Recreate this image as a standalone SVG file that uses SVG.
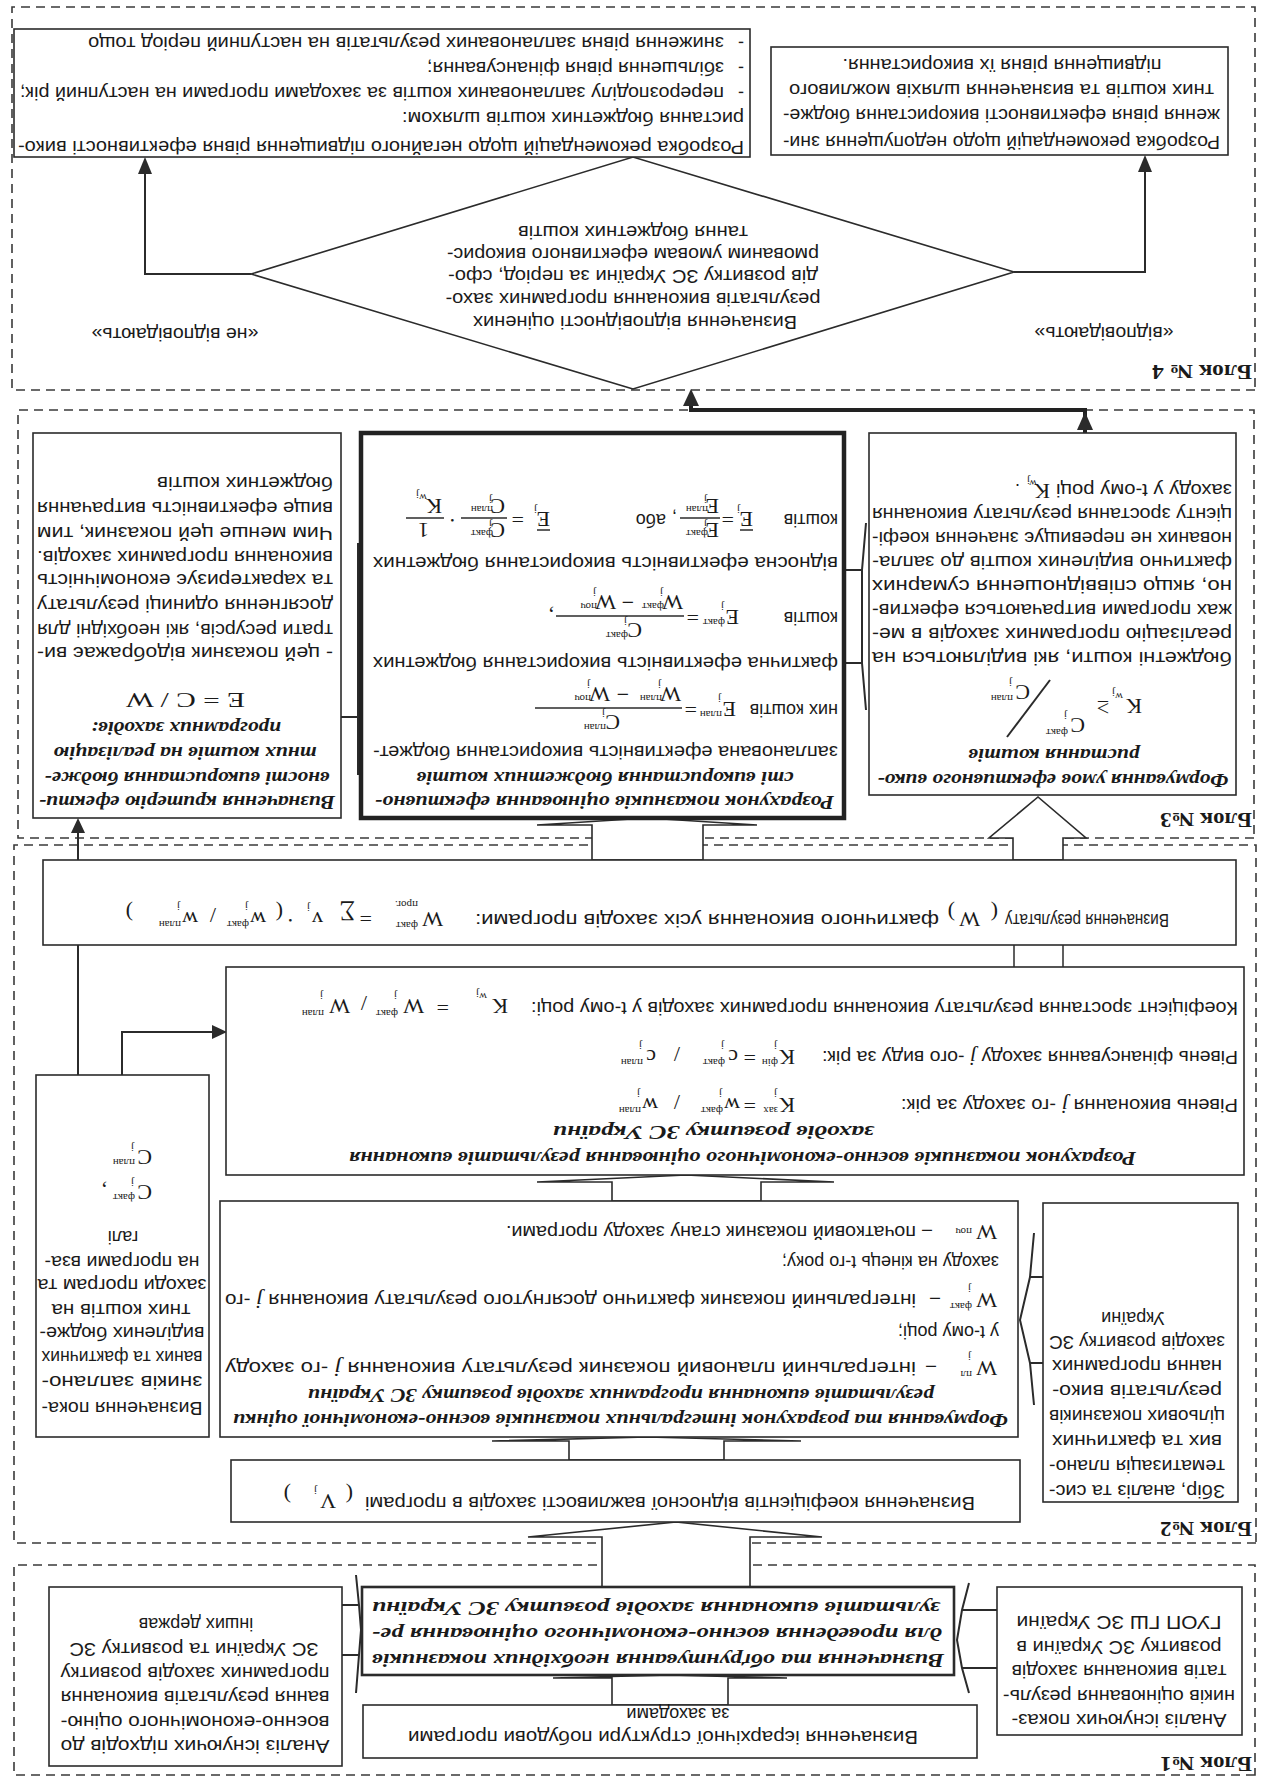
<svg xmlns="http://www.w3.org/2000/svg" width="1270" height="1779" viewBox="0 0 1270 1779">
<defs>
<style>
.bx{fill:#fff;stroke:#2b2b2b;stroke-width:1.6}
.bm{fill:#fff;stroke:#2b2b2b;stroke-width:2.6}
.bk{fill:#fff;stroke:#222;stroke-width:4.5}
.ds{fill:none;stroke:#3a3a3a;stroke-width:1.6;stroke-dasharray:9 6}
.ln{fill:none;stroke:#2b2b2b;stroke-width:2}
.lt{fill:none;stroke:#2b2b2b;stroke-width:1.5}
.lk{fill:none;stroke:#222;stroke-width:4}
.ha{fill:#fff;stroke:#2b2b2b;stroke-width:1.6}
.ah{fill:#2b2b2b}
text{fill:#1a1a1a}
.t{font-family:"Liberation Sans",Arial,sans-serif;font-size:18px}
.c{text-anchor:middle}
.h{font-family:"Liberation Serif","Times New Roman",serif;font-weight:bold;font-style:italic;font-size:19px}
.m{font-family:"Liberation Serif","Times New Roman",serif;font-size:22px}
.s{font-family:"Liberation Serif","Times New Roman",serif;font-size:11px}
.ji{font-family:"Liberation Serif","Times New Roman",serif;font-style:italic;font-size:20px}
.lb{font-family:"Liberation Serif","Times New Roman",serif;font-weight:bold;font-size:20px}
</style>
</defs>
<rect x="0" y="0" width="1270" height="1779" fill="#fff"/>
<g transform="rotate(180 635 889.5)">

<g id="blocks">
<rect class="ds" x="15" y="4" width="1241" height="210"/>
<rect class="ds" x="14" y="236" width="1242" height="698"/>
<rect class="ds" x="16" y="941" width="1236" height="428"/>
<rect class="ds" x="15" y="1389" width="1243" height="383"/>
<text class="lb" x="18" y="22" textLength="92" lengthAdjust="spacingAndGlyphs">Блок №1</text>
<text class="lb" x="18" y="257" textLength="92" lengthAdjust="spacingAndGlyphs">Блок №2</text>
<text class="lb" x="18" y="966" textLength="92" lengthAdjust="spacingAndGlyphs">Блок №3</text>
<text class="lb" x="18" y="1414" textLength="100" lengthAdjust="spacingAndGlyphs">Блок № 4</text>
</g>

<g id="connectors">
<polygon class="ha" points="542,74 542,101 483,101 600,104 717,101 658,101 658,74"/>
<polygon class="ha" points="520,192 520,242 448,242 594,257 742,242 668,242 668,192"/>
<polygon class="ha" points="546,319 546,338 469,338 623,342 778,338 701,338 701,319"/>
<polygon class="ha" points="509,578 509,597 436,597 584,604 733,597 658,597 658,578"/>
<rect x="207" y="812" width="49" height="22" fill="#fff"/>
<line class="lt" x1="207" y1="812" x2="207" y2="834"/>
<line class="lt" x1="256" y1="812" x2="256" y2="834"/>
<polygon class="ha" points="567,919 567,954 513,954 623,961 733,954 678,954 678,919"/>
<polygon class="ha" points="207,919 207,941 184,941 232,982 281,941 257,941 257,919"/>
<line class="ln" x1="1192" y1="704" x2="1192" y2="834"/>
<polyline class="ln" points="1148,704 1148,747 1058,747"/>
<polygon class="ah" points="1058,740 1058,754 1043,747"/>
<line class="ln" x1="1192" y1="919" x2="1192" y2="948"/>
<polygon class="ah" points="1185,946 1199,946 1192,961"/>
<path class="ln" d="M301,86 L308,111 L313,139 L308,169 L301,196 M273,111 H308 M273,169 H308"/>
<path class="ln" d="M914,86 L911,124 L909,149 L911,174 L914,204 M911,124 H928 M911,174 H928"/>
<path class="ln" d="M236,374 L240,416 L250,459 L240,502 L236,546 M227,416 H240 M227,502 H240"/>
<path class="ln" d="M404,1069 L408,1116 L408,1209 L404,1256 M408,1116 H426 M408,1209 H426"/>
<path class="ln" d="M912,1004 L912,1236 M912,1062 H929"/>
<line class="lk" x1="185" y1="1346" x2="185" y2="1369"/>
<polygon class="ah" points="177,1349 193,1349 185,1367"/>
<polyline class="lk" points="183,1369 579,1369 579,1376"/>
<polygon class="ah" points="571,1373 587,1373 579,1390"/>
<polyline class="ln" points="1019,1505 1125,1505 1125,1608"/>
<polygon class="ah" points="1118,1605 1132,1605 1125,1622"/>
<polyline class="ln" points="256,1507 125,1507 125,1610"/>
<polygon class="ah" points="118,1607 132,1607 125,1624"/>
</g>

<g id="n1a">
<rect class="bx" x="28" y="44" width="245" height="148"/>
<text class="t c" x="151" y="65" textLength="215" lengthAdjust="spacingAndGlyphs">Аналіз існуючих показ-</text>
<text class="t c" x="151" y="89.5" textLength="232" lengthAdjust="spacingAndGlyphs">ників оцінювання резуль-</text>
<text class="t c" x="151" y="114" textLength="215" lengthAdjust="spacingAndGlyphs">татів виконання заходів</text>
<text class="t c" x="151" y="138.5" textLength="205" lengthAdjust="spacingAndGlyphs">розвитку ЗС України в</text>
<text class="t c" x="151" y="163" textLength="205" lengthAdjust="spacingAndGlyphs">ГУОП ГШ ЗС України</text>
</g>

<g id="n1b">
<rect class="bm" x="316" y="104" width="592" height="88"/>
<text class="h" x="326" y="125" textLength="572" lengthAdjust="spacingAndGlyphs">Визначення та обґрунтування необхідних показників</text>
<text class="h" x="328" y="151" textLength="570" lengthAdjust="spacingAndGlyphs">для проведення воєнно-економічного оцінювання ре-</text>
<text class="h" x="330" y="177" textLength="568" lengthAdjust="spacingAndGlyphs">зультатів виконання заходів розвитку ЗС України</text>
</g>

<g id="n1c">
<rect class="bx" x="928" y="13" width="293" height="179"/>
<text class="t c" x="1075" y="39" textLength="269" lengthAdjust="spacingAndGlyphs">Аналіз існуючих підходів до</text>
<text class="t c" x="1075" y="63.5" textLength="269" lengthAdjust="spacingAndGlyphs">воєнно-економічного оціню-</text>
<text class="t c" x="1075" y="88" textLength="269" lengthAdjust="spacingAndGlyphs">вання  результатів виконання</text>
<text class="t c" x="1075" y="112" textLength="269" lengthAdjust="spacingAndGlyphs">програмних заходів розвитку</text>
<text class="t c" x="1076" y="136" textLength="249" lengthAdjust="spacingAndGlyphs">ЗС України та розвитку ЗС</text>
<text class="t c" x="1074" y="161">інших держав</text>
</g>

<g id="n1d">
<rect class="bx" x="293" y="21" width="614" height="53"/>
<text class="t c" x="607" y="48" textLength="510" lengthAdjust="spacingAndGlyphs">Визначення ієрархічної структури побудови програми</text>
<text class="t c" x="592" y="71">за заходами</text>
</g>

<g id="n2a">
<rect class="bx" x="250" y="257" width="789" height="62"/>
<text class="t" x="295" y="282" textLength="610" lengthAdjust="spacingAndGlyphs">Визначення коефіцієнтів відносної важливості заходів в програмі</text>
<text class="m" x="917" y="291" font-size="32">(</text>
<text class="m" x="934" y="285" font-size="22">V</text>
<text class="s" x="953" y="292">j</text>
<text class="m" x="979" y="291" font-size="32">)</text>
</g>

<g id="n2b">
<rect class="bx" x="32" y="277" width="195" height="299"/>
<text class="t c" x="133" y="294" textLength="176" lengthAdjust="spacingAndGlyphs">Збір, аналіз та сис-</text>
<text class="t c" x="133" y="319" textLength="176" lengthAdjust="spacingAndGlyphs">тематизація плано-</text>
<text class="t c" x="133" y="344" textLength="170" lengthAdjust="spacingAndGlyphs">вих та фактичних</text>
<text class="t c" x="133" y="369" textLength="176" lengthAdjust="spacingAndGlyphs">цільових показників</text>
<text class="t c" x="133" y="394" textLength="170" lengthAdjust="spacingAndGlyphs">результатів вико-</text>
<text class="t c" x="133" y="419" textLength="170" lengthAdjust="spacingAndGlyphs">нання програмних</text>
<text class="t c" x="133" y="443" textLength="176" lengthAdjust="spacingAndGlyphs">заходів розвитку ЗС</text>
<text class="t c" x="137" y="467">України</text>
</g>

<g id="n2c">
<rect class="bx" x="252" y="342" width="798" height="236"/>
<text class="h" x="262" y="365" textLength="775" lengthAdjust="spacingAndGlyphs">Формування та розрахунок  інтегральних показників воєнно-економічної оцінки</text>
<text class="h" x="336" y="390" textLength="626" lengthAdjust="spacingAndGlyphs">результатів виконання програмних заходів розвитку ЗС України</text>
<text class="m" x="273" y="418" font-size="25">W</text>
<text class="s" x="298" y="408">пл</text>
<text class="s" x="299" y="426">j</text>
<text class="t" x="334" y="417">–</text>
<text class="t" x="354" y="417" textLength="691" lengthAdjust="spacingAndGlyphs">інтегральний   плановий   показник   результату   виконання   <tspan class="ji">j</tspan> -го   заходу</text>
<text class="t" x="271" y="453">у t-ому році;</text>
<text class="m" x="273" y="486" font-size="25">W</text>
<text class="s" x="298" y="476">факт</text>
<text class="s" x="299" y="494">j</text>
<text class="t" x="330" y="485">–</text>
<text class="t" x="354" y="485" textLength="691" lengthAdjust="spacingAndGlyphs">інтегральний показник фактично досягнутого результату виконання  <tspan class="ji">j</tspan> -го</text>
<text class="t" x="271" y="523">заходу на кінець t-го року;</text>
<text class="m" x="273" y="554" font-size="25">W</text>
<text class="s" x="298" y="551">поч</text>
<text class="t" x="338" y="553">–</text>
<text class="t" x="354" y="553" textLength="410" lengthAdjust="spacingAndGlyphs">початковий показник стану заходу програми.</text>
</g>

<g id="n2d">
<rect class="bx" x="1061" y="342" width="173" height="362"/>
<text class="t c" x="1148" y="377" textLength="161" lengthAdjust="spacingAndGlyphs">Визначення пока-</text>
<text class="t c" x="1148" y="403" textLength="161" lengthAdjust="spacingAndGlyphs">зників заплано-</text>
<text class="t c" x="1148" y="428" textLength="161" lengthAdjust="spacingAndGlyphs">ваних та фактичних</text>
<text class="t c" x="1148" y="452" textLength="165" lengthAdjust="spacingAndGlyphs">виділених бюдже-</text>
<text class="t c" x="1149" y="475" textLength="139" lengthAdjust="spacingAndGlyphs">тних коштів на</text>
<text class="t c" x="1148" y="500" textLength="169" lengthAdjust="spacingAndGlyphs">заходи програм та</text>
<text class="t c" x="1148" y="523" textLength="155" lengthAdjust="spacingAndGlyphs">на програми вза-</text>
<text class="t c" x="1147" y="548">галі</text>
<text class="m" x="1118" y="594" font-size="22">C</text>
<text class="s" x="1135" y="585" font-size="10">факт</text>
<text class="s" x="1136" y="600" font-size="10">j</text>
<text class="m" x="1163" y="594">,</text>
<text class="m" x="1118" y="629" font-size="22">C</text>
<text class="s" x="1135" y="620" font-size="10">план</text>
<text class="s" x="1136" y="635" font-size="10">j</text>
</g>

<g id="n2e">
<rect class="bx" x="26" y="604" width="1018" height="208"/>
<text class="h" x="134" y="627" textLength="787" lengthAdjust="spacingAndGlyphs">Розрахунок  показників воєнно-економічного оцінювання результатів виконання</text>
<text class="h" x="396" y="653" textLength="321" lengthAdjust="spacingAndGlyphs">заходів розвитку ЗС України</text>
<text class="t" x="32" y="680" textLength="337" lengthAdjust="spacingAndGlyphs">Рівень виконання  <tspan class="ji">j</tspan> -го заходу за рік:</text>
<text class="m" x="475" y="681">K</text>
<text class="s" x="492" y="672">зах</text>
<text class="s" x="493" y="689">j</text>
<text class="m" x="514" y="681">=</text>
<text class="m" x="530" y="681">w</text>
<text class="s" x="547" y="672">факт</text>
<text class="s" x="548" y="689">j</text>
<text class="m" x="590" y="684" font-size="28">/</text>
<text class="m" x="612" y="681">w</text>
<text class="s" x="629" y="672">план</text>
<text class="s" x="630" y="689">j</text>
<text class="t" x="32" y="728" textLength="416" lengthAdjust="spacingAndGlyphs">Рівень фінансування заходу  <tspan class="ji">j</tspan> -ого  виду за рік:</text>
<text class="m" x="475" y="729">K</text>
<text class="s" x="492" y="720">фін</text>
<text class="s" x="493" y="737">j</text>
<text class="m" x="514" y="729">=</text>
<text class="m" x="532" y="729">c</text>
<text class="s" x="545" y="720">факт</text>
<text class="s" x="546" y="737">j</text>
<text class="m" x="590" y="732" font-size="28">/</text>
<text class="m" x="614" y="729">c</text>
<text class="s" x="627" y="720">план</text>
<text class="s" x="628" y="737">j</text>
<text class="t" x="32" y="777" textLength="707" lengthAdjust="spacingAndGlyphs">Коефіцієнт зростання результату виконання програмних заходів у t-ому році:</text>
<text class="m" x="762" y="780" font-size="26">K</text>
<text class="s" x="783" y="786" font-size="12">w</text>
<text class="s" x="791" y="789" font-size="8">j</text>
<text class="m" x="821" y="779" font-size="22">=</text>
<text class="m" x="846" y="780" font-size="26">W</text>
<text class="s" x="872" y="769">факт</text>
<text class="s" x="873" y="787">j</text>
<text class="m" x="903" y="783" font-size="30">/</text>
<text class="m" x="920" y="780" font-size="26">W</text>
<text class="s" x="946" y="769">план</text>
<text class="s" x="947" y="787">j</text>
</g>

<g id="n2f">
<rect class="bx" x="34" y="834" width="1193" height="85"/>
<text class="t" y="865"><tspan x="101" textLength="164" lengthAdjust="spacingAndGlyphs">Визначення результату</tspan><tspan class="m" x="272" y="873" font-size="30">(</tspan><tspan class="m" x="290" y="867" font-size="22">W</tspan><tspan class="m" x="315" y="873" font-size="30">)</tspan><tspan x="331" y="865" textLength="464" lengthAdjust="spacingAndGlyphs">фактичного виконання усіх заходів програми:</tspan></text>
<text class="m" x="827" y="867" font-size="24">W</text>
<text class="s" x="852" y="857">факт</text>
<text class="s" x="852" y="878">прог.</text>
<text class="m" x="898" y="868">=</text>
<text class="m" x="915" y="873" font-size="30">∑</text>
<text class="m" x="947" y="867">v</text>
<text class="s" x="960" y="875">j</text>
<text class="m" x="976" y="866">·</text>
<text class="m" x="987" y="873" font-size="28">(</text>
<text class="m" x="1004" y="867">w</text>
<text class="s" x="1021" y="858">факт</text>
<text class="s" x="1022" y="876">j</text>
<text class="m" x="1054" y="871" font-size="26">/</text>
<text class="m" x="1072" y="867">w</text>
<text class="s" x="1089" y="858">план</text>
<text class="s" x="1090" y="876">j</text>
<text class="m" x="1137" y="873" font-size="28">)</text>
</g>

<g id="n3a">
<rect class="bx" x="929" y="961" width="308" height="385"/>
<text class="h c" x="1083" y="983" textLength="296" lengthAdjust="spacingAndGlyphs">Визначення критерію ефекти-</text>
<text class="h c" x="1083" y="1007" textLength="285" lengthAdjust="spacingAndGlyphs">вності використання бюдже-</text>
<text class="h c" x="1085" y="1032" textLength="263" lengthAdjust="spacingAndGlyphs">тних коштів на реалізацію</text>
<text class="h c" x="1084" y="1057" textLength="190" lengthAdjust="spacingAndGlyphs">програмних заходів:</text>
<text class="m" x="1025" y="1086" font-size="27" textLength="119" lengthAdjust="spacingAndGlyphs">E = C / W</text>
<text class="t" x="937" y="1132" textLength="296" lengthAdjust="spacingAndGlyphs">-  цей  показник  відображає  ви-</text>
<text class="t" x="937" y="1155" textLength="296" lengthAdjust="spacingAndGlyphs">трати ресурсів, які необхідні для</text>
<text class="t" x="937" y="1180" textLength="296" lengthAdjust="spacingAndGlyphs">досягнення одиниці результату</text>
<text class="t" x="937" y="1205" textLength="296" lengthAdjust="spacingAndGlyphs">та характеризує  економічність</text>
<text class="t" x="937" y="1228" textLength="296" lengthAdjust="spacingAndGlyphs">виконання програмних заходів.</text>
<text class="t" x="937" y="1252" textLength="296" lengthAdjust="spacingAndGlyphs">Чим менше цей показник, тим</text>
<text class="t" x="937" y="1277" textLength="296" lengthAdjust="spacingAndGlyphs">вище ефективність витрачання</text>
<text class="t" x="937" y="1302" textLength="176" lengthAdjust="spacingAndGlyphs">бюджетних коштів</text>
</g>

<g id="n3b">
<rect class="bk" x="426" y="961" width="483" height="385"/>
<text class="h" x="436" y="983" textLength="459" lengthAdjust="spacingAndGlyphs">Розрахунок  показників оцінювання ефективно-</text>
<text class="h c" x="665" y="1007" textLength="377" lengthAdjust="spacingAndGlyphs">сті використання бюджетних коштів</text>
<text class="t" x="432" y="1033" textLength="465" lengthAdjust="spacingAndGlyphs">запланована ефективність використання бюджет-</text>
<text class="t" x="432" y="1075">них коштів</text>
<text class="m" x="534" y="1077" font-size="20">E</text>
<text class="s" x="548" y="1068" font-size="10">план</text>
<text class="s" x="549" y="1084" font-size="10">j</text>
<text class="m" x="573" y="1077" font-size="20">=</text>
<line class="lt" x1="588" y1="1071" x2="735" y2="1071"/>
<text class="m" x="650" y="1064" font-size="20">C</text>
<text class="s" x="664" y="1055" font-size="10">план</text>
<text class="s" x="665" y="1069" font-size="10">j</text>
<text class="m" x="589" y="1092" font-size="20">W</text>
<text class="s" x="608" y="1084" font-size="10">план</text>
<text class="s" x="609" y="1098" font-size="10">j</text>
<text class="m" x="641" y="1092" font-size="20">−</text>
<text class="m" x="660" y="1092" font-size="20">W</text>
<text class="s" x="679" y="1084" font-size="10">поч</text>
<text class="s" x="680" y="1098" font-size="10">j</text>
<text class="t" x="432" y="1122" textLength="465" lengthAdjust="spacingAndGlyphs">фактична ефективність використання бюджетних</text>
<text class="t" x="432" y="1167">коштів</text>
<text class="m" x="531" y="1169" font-size="20">E</text>
<text class="s" x="545" y="1160" font-size="10">факт</text>
<text class="s" x="546" y="1176" font-size="10">j</text>
<text class="m" x="571" y="1169" font-size="20">=</text>
<line class="lt" x1="586" y1="1163" x2="714" y2="1163"/>
<text class="m" x="628" y="1156" font-size="20">C</text>
<text class="s" x="642" y="1147" font-size="10">факт</text>
<text class="s" x="643" y="1161" font-size="10">j</text>
<text class="m" x="587" y="1184" font-size="20">W</text>
<text class="s" x="606" y="1176" font-size="10">факт</text>
<text class="s" x="607" y="1190" font-size="10">j</text>
<text class="m" x="636" y="1184" font-size="20">−</text>
<text class="m" x="654" y="1184" font-size="20">W</text>
<text class="s" x="673" y="1176" font-size="10">поч</text>
<text class="s" x="674" y="1190" font-size="10">j</text>
<text class="m" x="716" y="1169" font-size="20">,</text>
<text class="t" x="432" y="1222" textLength="465" lengthAdjust="spacingAndGlyphs">відносна ефективність використання бюджетних</text>
<text class="t" x="432" y="1265">коштів</text>
<text class="m" x="517" y="1267" font-size="20">E</text>
<line class="lt" x1="517" y1="1249" x2="530" y2="1249"/>
<text class="s" x="530" y="1273" font-size="10">j</text>
<text class="m" x="536" y="1267" font-size="18">=</text>
<line class="lt" x1="550" y1="1261" x2="590" y2="1261"/>
<text class="m" x="551" y="1256" font-size="16">E</text>
<text class="s" x="562" y="1249" font-size="8">факт</text>
<text class="s" x="563" y="1258" font-size="8">j</text>
<text class="m" x="551" y="1280" font-size="16">E</text>
<text class="s" x="562" y="1273" font-size="8">план</text>
<text class="s" x="563" y="1283" font-size="8">j</text>
<text class="t" x="593" y="1267">,</text>
<text class="t" x="604" y="1265">або</text>
<text class="m" x="720" y="1267" font-size="20">E</text>
<line class="lt" x1="720" y1="1249" x2="733" y2="1249"/>
<text class="s" x="733" y="1273" font-size="10">j</text>
<text class="m" x="746" y="1267" font-size="18">=</text>
<line class="lt" x1="763" y1="1261" x2="809" y2="1261"/>
<text class="m" x="765" y="1256" font-size="16">C</text>
<text class="s" x="777" y="1249" font-size="8">факт</text>
<text class="s" x="778" y="1258" font-size="8">j</text>
<text class="m" x="765" y="1280" font-size="16">C</text>
<text class="s" x="777" y="1273" font-size="8">план</text>
<text class="s" x="778" y="1283" font-size="8">j</text>
<text class="m" x="814" y="1266" font-size="18">·</text>
<line class="lt" x1="826" y1="1261" x2="864" y2="1261"/>
<text class="m" x="841" y="1256" font-size="16">1</text>
<text class="m" x="828" y="1280" font-size="16">K</text>
<text class="s" x="843" y="1285" font-size="9">w</text>
<text class="s" x="851" y="1288" font-size="7">j</text>
</g>

<g id="n3c">
<rect class="bx" x="34" y="984" width="367" height="362"/>
<text class="h c" x="217" y="1005" textLength="351" lengthAdjust="spacingAndGlyphs">Формування умов ефективного вико-</text>
<text class="h c" x="216" y="1030" textLength="171" lengthAdjust="spacingAndGlyphs">ристання коштів</text>
<text class="m" x="128" y="1080" font-size="26">K</text>
<text class="s" x="147" y="1086" font-size="12">w</text>
<text class="s" x="155" y="1090" font-size="8">j</text>
<text class="m" x="161" y="1078" font-size="22">≥</text>
<text class="m" x="185" y="1061" font-size="24">C</text>
<text class="s" x="202" y="1050">факт</text>
<text class="s" x="203" y="1067">j</text>
<line class="ln" x1="220" y1="1099" x2="263" y2="1042" stroke-width="1.8"/>
<text class="m" x="240" y="1094" font-size="24">C</text>
<text class="s" x="257" y="1084">план</text>
<text class="s" x="258" y="1100">j</text>
<text class="t" x="38" y="1127" textLength="360" lengthAdjust="spacingAndGlyphs">бюджетні кошти, які виділяються на</text>
<text class="t" x="38" y="1151" textLength="360" lengthAdjust="spacingAndGlyphs">реалізацію програмних заходів в ме-</text>
<text class="t" x="38" y="1175" textLength="360" lengthAdjust="spacingAndGlyphs">жах програми витрачаються ефектив-</text>
<text class="t" x="38" y="1199" textLength="360" lengthAdjust="spacingAndGlyphs">но, якщо співвідношення сумарних</text>
<text class="t" x="38" y="1223" textLength="360" lengthAdjust="spacingAndGlyphs">фактично виділених коштів до запла-</text>
<text class="t" x="38" y="1247" textLength="360" lengthAdjust="spacingAndGlyphs">нованих не перевищує значення коефі-</text>
<text class="t" x="38" y="1271" textLength="360" lengthAdjust="spacingAndGlyphs">цієнту зростання результату виконання</text>
<text class="t" x="38" y="1295" textLength="176" lengthAdjust="spacingAndGlyphs">заходу у t-ому році</text>
<text class="m" x="220" y="1295" font-size="18">K</text>
<text class="s" x="233" y="1299" font-size="9">w</text>
<text class="s" x="240" y="1302" font-size="7">j</text>
<text class="t" x="250" y="1295">.</text>
</g>

<g id="n4">
<polygon class="bx" points="637,1390 1019,1505 637,1622 256,1507"/>
<text class="t c" x="635" y="1463" textLength="324" lengthAdjust="spacingAndGlyphs">Визначення відповідності оцінених</text>
<text class="t c" x="637" y="1486" textLength="375" lengthAdjust="spacingAndGlyphs">результатів виконання програмних захо-</text>
<text class="t c" x="637" y="1509" textLength="370" lengthAdjust="spacingAndGlyphs">дів розвитку ЗС України за період, сфо-</text>
<text class="t c" x="637" y="1531" textLength="372" lengthAdjust="spacingAndGlyphs">рмованим умовам ефективного викорис-</text>
<text class="t c" x="637" y="1553" textLength="230" lengthAdjust="spacingAndGlyphs">тання бюджетних коштів</text>
</g>

<g id="labels">
<text class="t c" x="1095" y="1451" textLength="167" lengthAdjust="spacingAndGlyphs">«не відповідають»</text>
<text class="t c" x="166" y="1452" textLength="139" lengthAdjust="spacingAndGlyphs">«відповідають»</text>
</g>

<g id="n4a">
<rect class="bx" x="42" y="1624" width="457" height="108"/>
<text class="t" x="50" y="1643" textLength="437" lengthAdjust="spacingAndGlyphs">Розробка рекомендацій щодо недопущення зни-</text>
<text class="t" x="50" y="1670" textLength="437" lengthAdjust="spacingAndGlyphs">ження рівня ефективності використання бюдже-</text>
<text class="t" x="56" y="1695" textLength="425" lengthAdjust="spacingAndGlyphs">тних коштів та визначення шляхів можливого</text>
<text class="t c" x="268" y="1720" textLength="319" lengthAdjust="spacingAndGlyphs">підвищення рівня їх використання.</text>
</g>

<g id="n4b">
<rect class="bx" x="520" y="1622" width="736" height="128"/>
<text class="t" x="526" y="1638" textLength="726" lengthAdjust="spacingAndGlyphs">Розробка рекомендацій щодо негайного підвищення рівня ефективності вико-</text>
<text class="t" x="526" y="1667" textLength="342" lengthAdjust="spacingAndGlyphs">ристання бюджетних коштів шляхом:</text>
<text class="t" x="526" y="1692">-</text>
<text class="t" x="546" y="1692" textLength="704" lengthAdjust="spacingAndGlyphs">перерозподілу запланованих коштів за заходами програми на наступний рік;</text>
<text class="t" x="526" y="1717">-</text>
<text class="t" x="546" y="1717" textLength="297" lengthAdjust="spacingAndGlyphs">збільшення рівня фінансування;</text>
<text class="t" x="526" y="1742">-</text>
<text class="t" x="546" y="1742" textLength="636" lengthAdjust="spacingAndGlyphs">зниження рівня запланованих результатів на наступний період тощо</text>
</g>

</g>
</svg>
